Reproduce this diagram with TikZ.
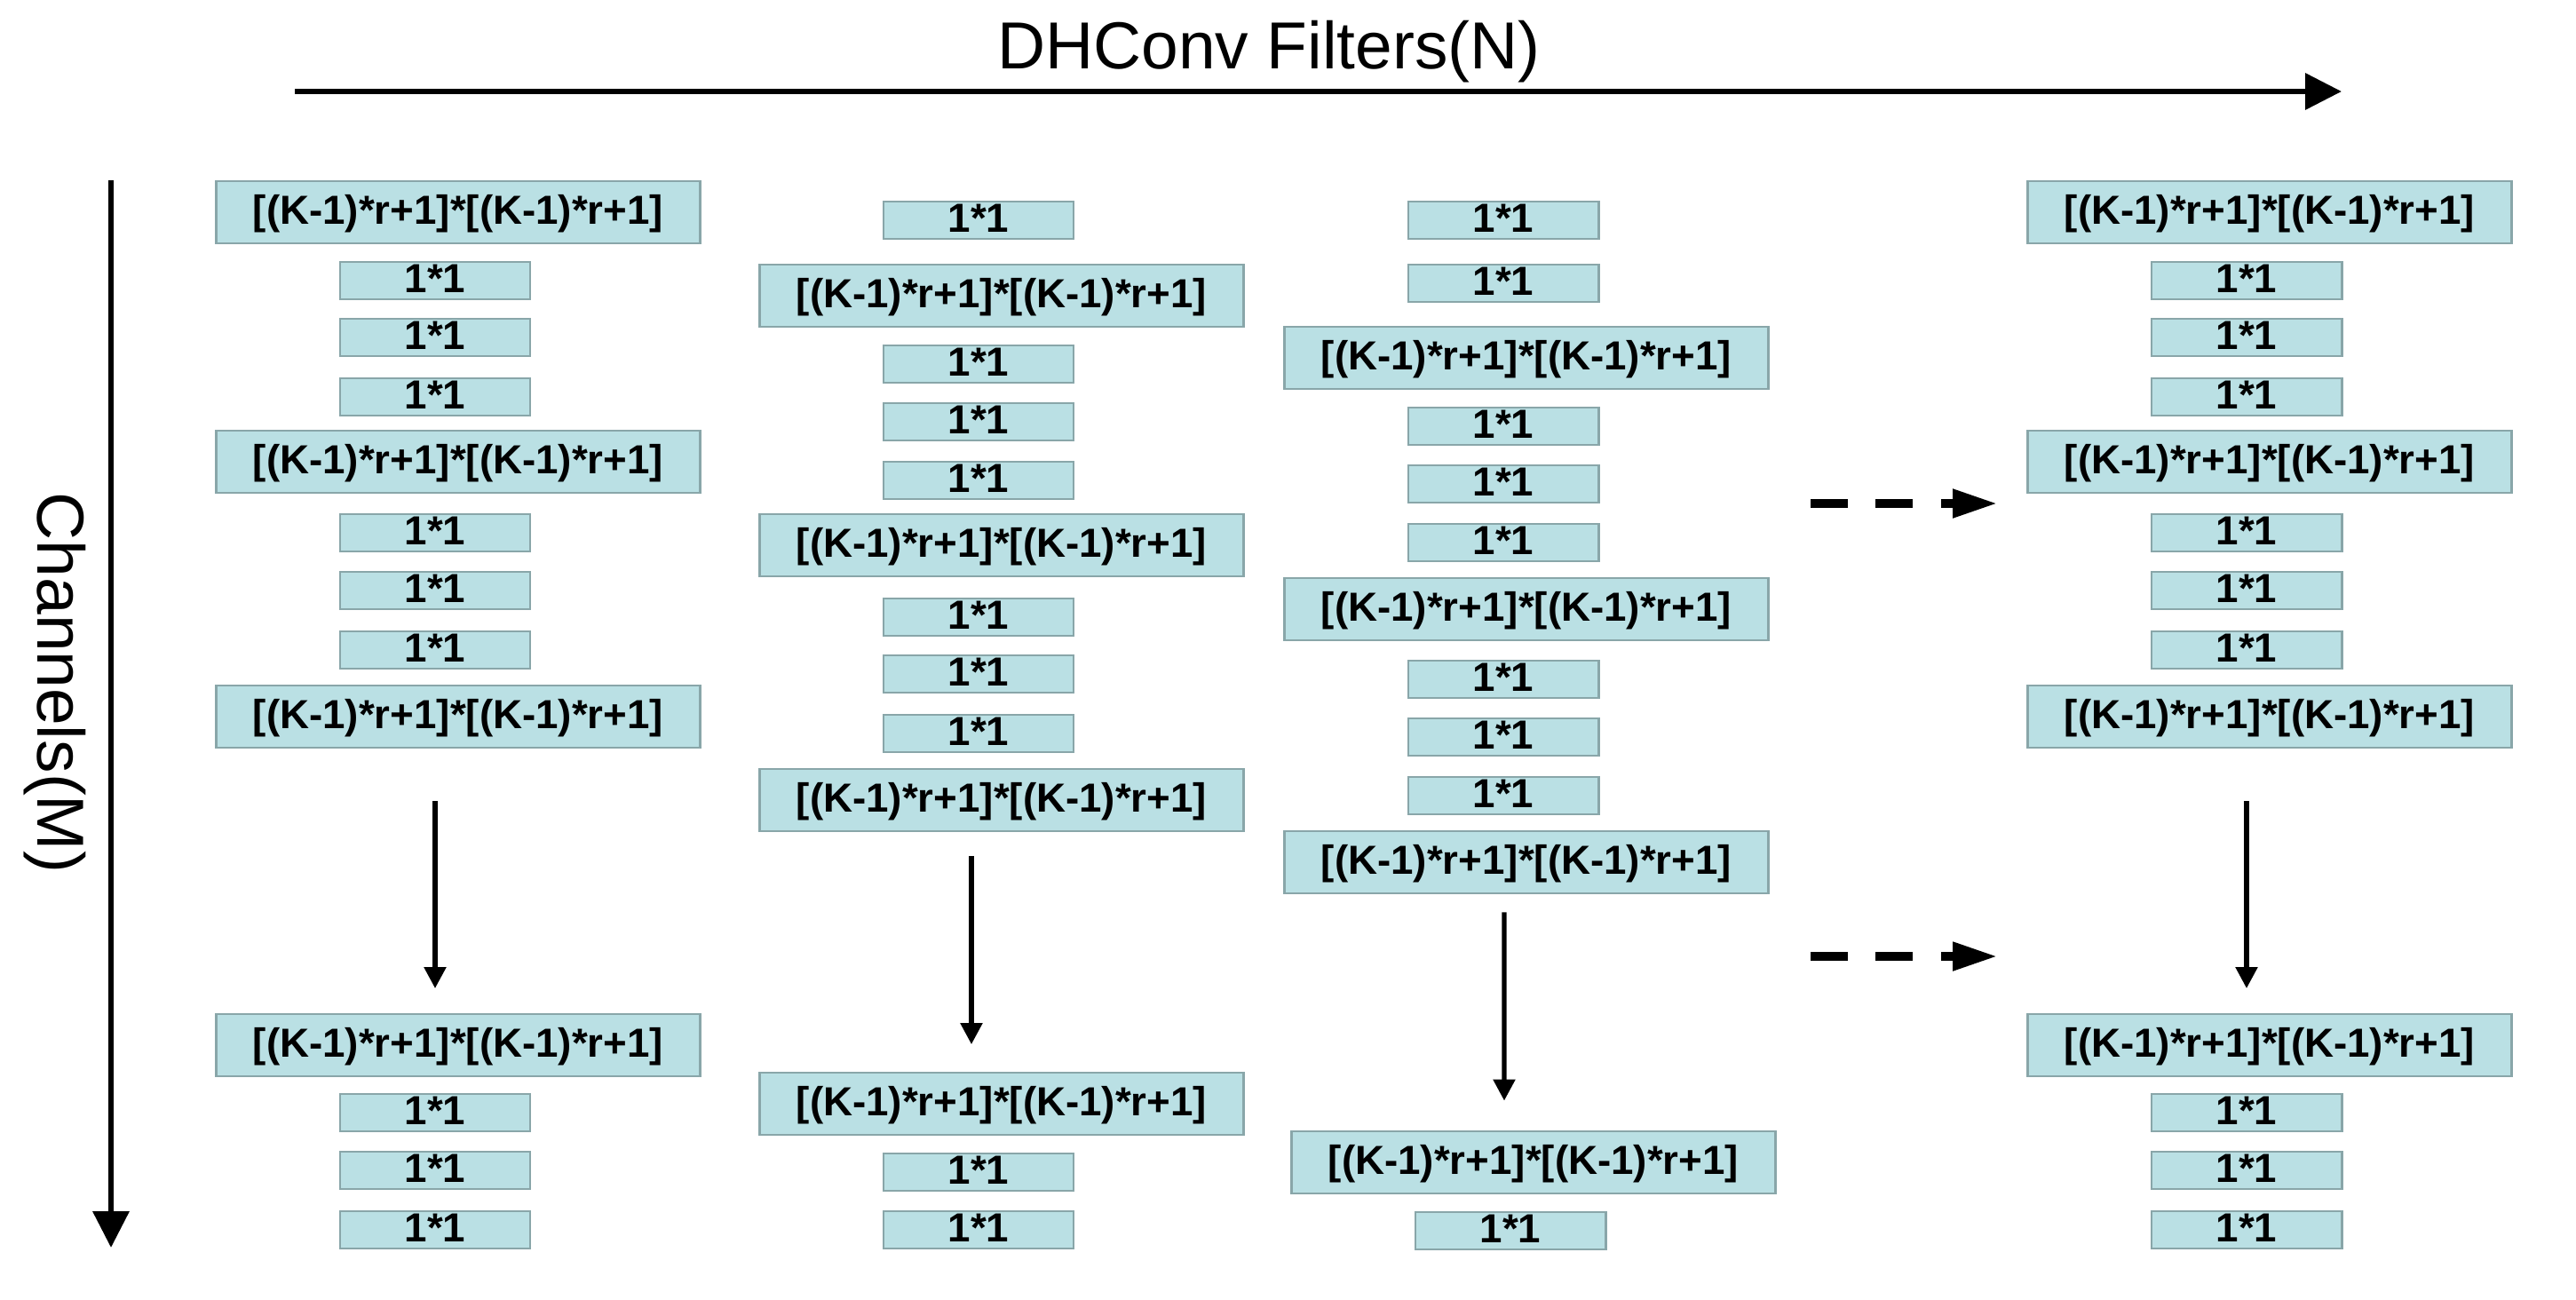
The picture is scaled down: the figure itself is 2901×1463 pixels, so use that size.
\documentclass[tikz,border=0pt]{standalone}
\usepackage{fontspec}
\setmainfont{Liberation Sans}
\usetikzlibrary{arrows.meta}
\definecolor{boxfill}{RGB}{186,224,228}
\definecolor{boxline}{RGB}{137,166,169}
\newcommand{\dil}{[(K-1)*r+1]*[(K-1)*r+1]}

\begin{document}
\begin{tikzpicture}[x=0.01cm,y=-0.01cm,
  kbox/.style={draw=boxline,fill=boxfill,line width=0.8pt,inner sep=0pt,
    text height=0.78em,text depth=0pt,font=\fontsize{13}{15}\selectfont\bfseries},
  wide/.style={kbox,minimum width=5.44cm,minimum height=0.70cm},
  unit/.style={kbox,minimum width=2.14cm,minimum height=0.42cm},
  axis/.style={line width=1.9pt,-{Triangle[length=0.41cm,width=0.40cm]}},
  flow/.style={line width=1.5pt,-{Triangle[length=0.24cm,width=0.24cm]}},
  more/.style={line width=3pt,dash pattern=on 0.417cm off 0.317cm,
    -{Triangle[length=0.51cm,width=0.30cm]}}]
  \useasboundingbox (0,0) rectangle (2901,1463);

  % axes
  \node[font=\fontsize{21.3}{25}\selectfont,anchor=base] (filters) at (1429,77) {DHConv Filters(N)};
  \node[font=\fontsize{21.3}{25}\selectfont,anchor=base,rotate=-90] (channels) at (42,769) {Channels(M)};
  \coordinate (n0) at (332,103);
  \coordinate (n1) at (2637,103);
  \coordinate (m0) at (125,203);
  \coordinate (m1) at (125,1405);
  \draw[axis] (n0) -- (n1);
  \draw[axis] (m0) -- (m1);

  % first and last filter
  \foreach \col/\cx in {a/490, d/2530} {
    \foreach \y [count=\i] in {239,520,807,1177}
      \node[wide] (\col\i) at (\cx+26,\y) {\dil};
    \foreach \y [count=\i] in {316,380,447,600,665,732,1253,1318,1385}
      \node[unit] (\col u\i) at (\cx,\y) {1*1};
    \draw[flow,shorten <=0.59cm,shorten >=0.275cm]
      ([xshift=-0.26cm]\col3.south) -- ([xshift=-0.26cm]\col4.north);
  }

  % second filter
  \foreach \y [count=\i] in {333,614,901,1243}
    \node[wide] (b\i) at (1128,\y) {\dil};
  \foreach \y [count=\i] in {248,410,475,541,695,759,826,1320,1385}
    \node[unit] (bu\i) at (1102,\y) {1*1};
  \draw[flow,shorten <=0.265cm,shorten >=0.305cm]
    ([xshift=-0.34cm]b3.south) -- ([xshift=-0.34cm]b4.north);

  % third filter
  \foreach \y [count=\i] in {403,686,971}
    \node[wide] (c\i) at (1719,\y) {\dil};
  \node[wide] (c4) at (1727,1309) {\dil};
  \foreach \y [count=\i] in {248,319,480,545,611,765,830,896}
    \node[unit] (cu\i) at (1693,\y) {1*1};
  \node[unit] (cu9) at (1701,1386) {1*1};
  \draw[flow,shorten <=0.2cm,shorten >=0.33cm]
    ([xshift=-0.25cm]c3.south) -- ([xshift=-0.33cm]c4.north);

  % more filters
  \coordinate (s0) at (2039,567);
  \coordinate (t0) at (2250,567);
  \coordinate (s1) at (2039,1077);
  \coordinate (t1) at (2250,1077);
  \draw[more] (s0) -- (t0);
  \draw[more] (s1) -- (t1);
\end{tikzpicture}
\end{document}
